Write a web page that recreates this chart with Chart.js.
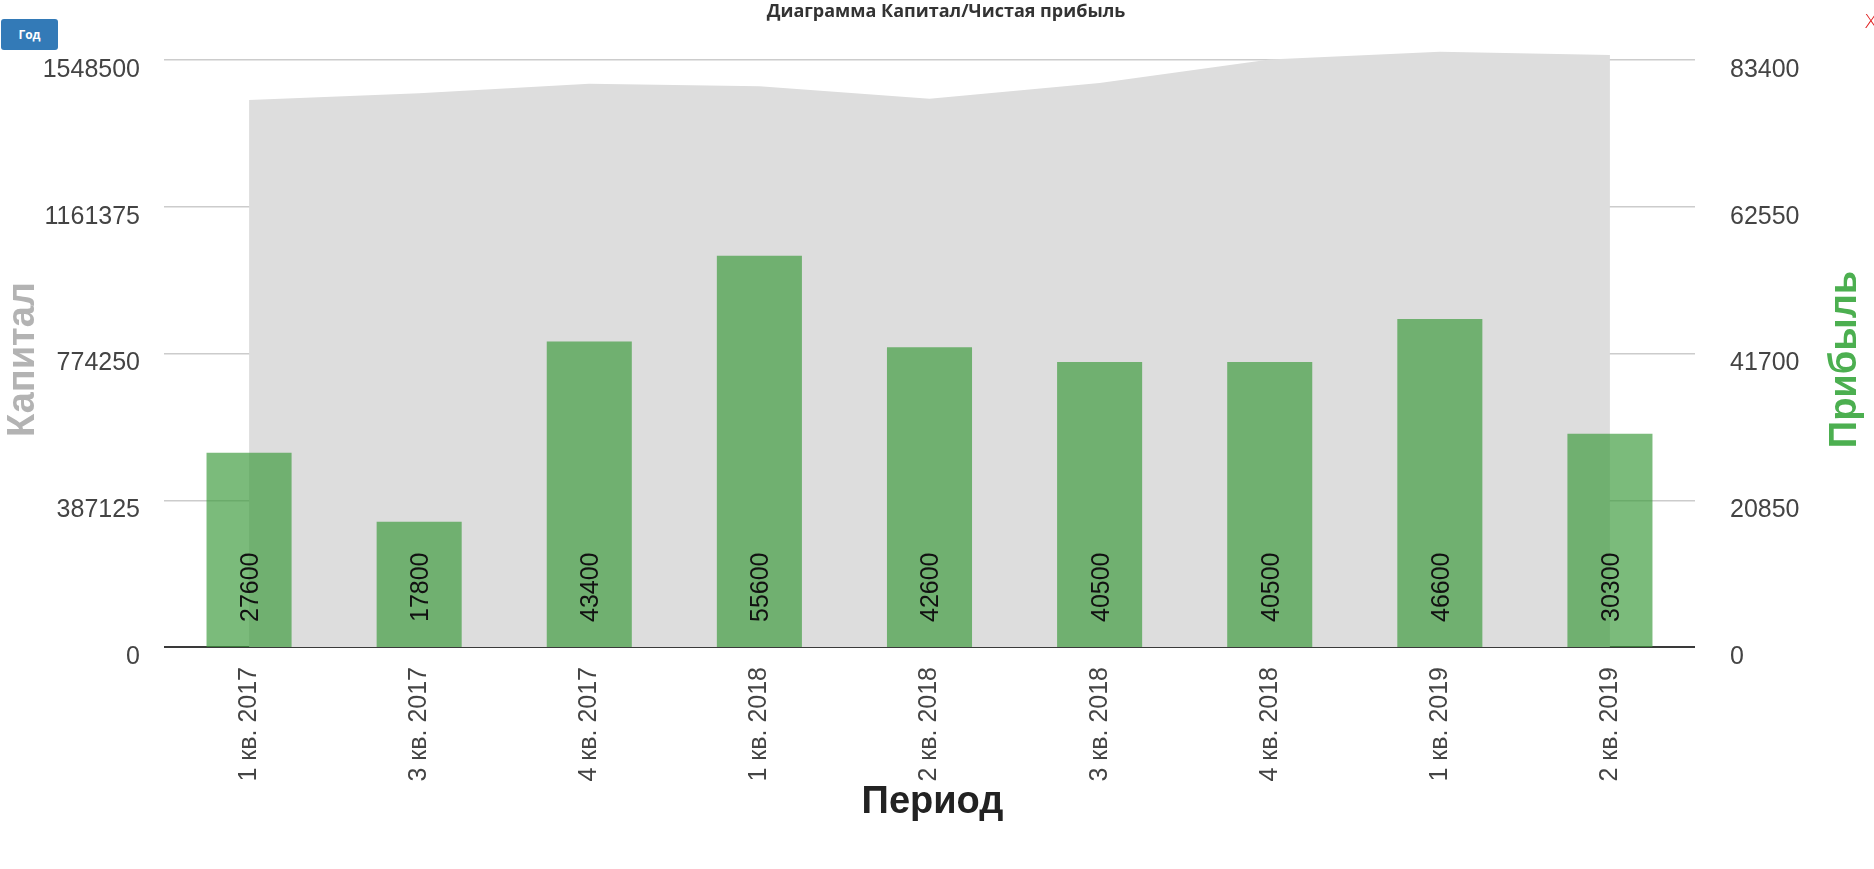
<!DOCTYPE html>
<html>
<head>
<meta charset="utf-8">
<script src="https://cdn.jsdelivr.net/npm/chart.js@4.4.1/dist/chart.umd.min.js"></script>
<style>
  html, body { margin: 0; padding: 0; background: #fff; }
  #wrap { position: relative; width: 1874px; height: 869px; overflow: hidden; }
  #c { position: absolute; left: 0; top: 0; }
  #title { position: absolute; left: 0; top: 0; width: 1892px; text-align: center;
           font: bold 18px "Open Sans", "Liberation Sans", sans-serif; color: #333; line-height: 20px; }
  #btn { position: absolute; left: 1px; top: 19px; width: 57px; height: 31px; background: #337ab7;
         border-radius: 3px; color: #fff; font: bold 12px "Open Sans", sans-serif; line-height: 31px; text-align: center; }
  #close { position: absolute; left: 1864px; top: 9px; color: #e02020; font: 300 20px "DejaVu Sans", sans-serif; }
</style>
</head>
<body>
<div id="wrap">
  <canvas id="c" width="1874" height="869"></canvas>
  <div id="title">Диаграмма Капитал/Чистая прибыль</div>
  <div id="btn">Год</div>
  <div id="close">X</div>
</div>
<script>
const categories = ['1 кв. 2017','3 кв. 2017','4 кв. 2017','1 кв. 2018','2 кв. 2018','3 кв. 2018','4 кв. 2018','1 кв. 2019','2 кв. 2019'];
const capital = [1443000, 1461000, 1486000, 1479000, 1446000, 1488000, 1550000, 1570000, 1562000];
const profit = [27600, 17800, 43400, 55600, 42600, 40500, 40500, 46600, 30300];
const capitalTicks = [0, 387125, 774250, 1161375, 1548500];
const profitTicks = [0, 20850, 41700, 62550, 83400];
const capitalTitle = 'Капитал';
const profitTitle = 'Прибыль';
const periodTitle = 'Период';

// Layout: the top gridline (last tick) sits at y=60, the zero line at y=647.
// The plot area is extended above the top tick so the area series can rise over it.
const gridTopY = 60, gridBottomY = 647;
const capTop = capitalTicks[capitalTicks.length - 1];
const profTop = profitTicks[profitTicks.length - 1];
const viewRatio = 1600000 / capTop;
const plotTop = gridBottomY - (gridBottomY - gridTopY) * viewRatio;

const tickFont = { family: '"Liberation Sans", Arial, sans-serif', size: 25 };

const titlesPlugin = {
  id: 'axisTitles',
  afterDraw(chart) {
    const ctx = chart.ctx;
    const a = chart.chartArea;
    const cy = (gridTopY + gridBottomY) / 2 + 6;
    ctx.save();
    ctx.font = 'bold 38px "Liberation Sans", Arial, sans-serif';
    ctx.textAlign = 'center';
    ctx.textBaseline = 'middle';
    ctx.save();
    ctx.translate(24, cy);
    ctx.rotate(-Math.PI / 2);
    ctx.fillStyle = '#b3b3b3';
    ctx.fillText(capitalTitle, 0, 0);
    ctx.restore();
    ctx.save();
    ctx.translate(1846, cy);
    ctx.rotate(-Math.PI / 2);
    ctx.fillStyle = '#4caf50';
    ctx.fillText(profitTitle, 0, 0);
    ctx.restore();
    ctx.fillStyle = '#222';
    ctx.textBaseline = 'alphabetic';
    ctx.fillText(periodTitle, (a.left + a.right) / 2 + 3, 813);
    ctx.restore();
  }
};

const barLabels = {
  id: 'barLabels',
  afterDatasetsDraw(chart) {
    const ctx = chart.ctx;
    const meta = chart.getDatasetMeta(0);
    ctx.save();
    ctx.font = '25px "Liberation Sans", Arial, sans-serif';
    ctx.fillStyle = '#111';
    ctx.textAlign = 'left';
    ctx.textBaseline = 'middle';
    meta.data.forEach((el, i) => {
      ctx.save();
      ctx.translate(el.x + 2, el.base - 25);
      ctx.rotate(-Math.PI / 2);
      ctx.fillText(String(profit[i]), 0, 0);
      ctx.restore();
    });
    ctx.restore();
  }
};

function fixY(width) {
  return s => { s.width = width; s.paddingTop = 0; s.paddingBottom = 0; };
}

new Chart(document.getElementById('c'), {
  data: {
    labels: categories,
    datasets: [
      {
        type: 'bar',
        label: 'Прибыль',
        data: profit,
        yAxisID: 'yR',
        backgroundColor: 'rgba(61,155,61,0.68)',
        borderWidth: 0,
        barPercentage: 0.5,
        categoryPercentage: 1.0,
        order: 0
      },
      {
        type: 'line',
        label: 'Капитал',
        data: capital,
        yAxisID: 'yL',
        fill: 'origin',
        backgroundColor: '#dddddd',
        borderWidth: 0,
        borderColor: 'rgba(0,0,0,0)',
        pointRadius: 0,
        tension: 0,
        order: 1
      }
    ]
  },
  options: {
    responsive: false,
    animation: false,
    layout: { padding: { top: plotTop, left: 0, right: 0, bottom: 0 } },
    plugins: { legend: { display: false }, tooltip: { enabled: false }, title: { display: false } },
    scales: {
      x: {
        offset: true,
        grid: { display: false, drawTicks: false },
        border: { display: false },
        ticks: { minRotation: 90, maxRotation: 90, autoSkip: false, padding: 20, font: tickFont, color: '#444' },
        afterFit: s => { s.height = 869 - gridBottomY; s.paddingLeft = 0; s.paddingRight = 0; }
      },
      yL: {
        position: 'left',
        min: 0,
        max: capTop * viewRatio,
        afterBuildTicks: s => { s.ticks = capitalTicks.map(v => ({ value: v })); },
        grid: {
          drawTicks: false,
          color: c => (c.tick && c.tick.value === 0) ? '#3a3a3a' : '#cccccc',
          lineWidth: c => (c.tick && c.tick.value === 0) ? 2 : 1.5
        },
        border: { display: false },
        ticks: { padding: 24, labelOffset: 10, font: tickFont, color: '#444', callback: v => String(v) },
        afterFit: fixY(164)
      },
      yR: {
        position: 'right',
        min: 0,
        max: profTop * viewRatio,
        afterBuildTicks: s => { s.ticks = profitTicks.map(v => ({ value: v })); },
        grid: { display: false, drawTicks: false },
        border: { display: false },
        ticks: { padding: 35, labelOffset: 10, font: tickFont, color: '#444', callback: v => String(v) },
        afterFit: fixY(179)
      }
    }
  },
  plugins: [barLabels, titlesPlugin]
});
</script>
</body>
</html>
